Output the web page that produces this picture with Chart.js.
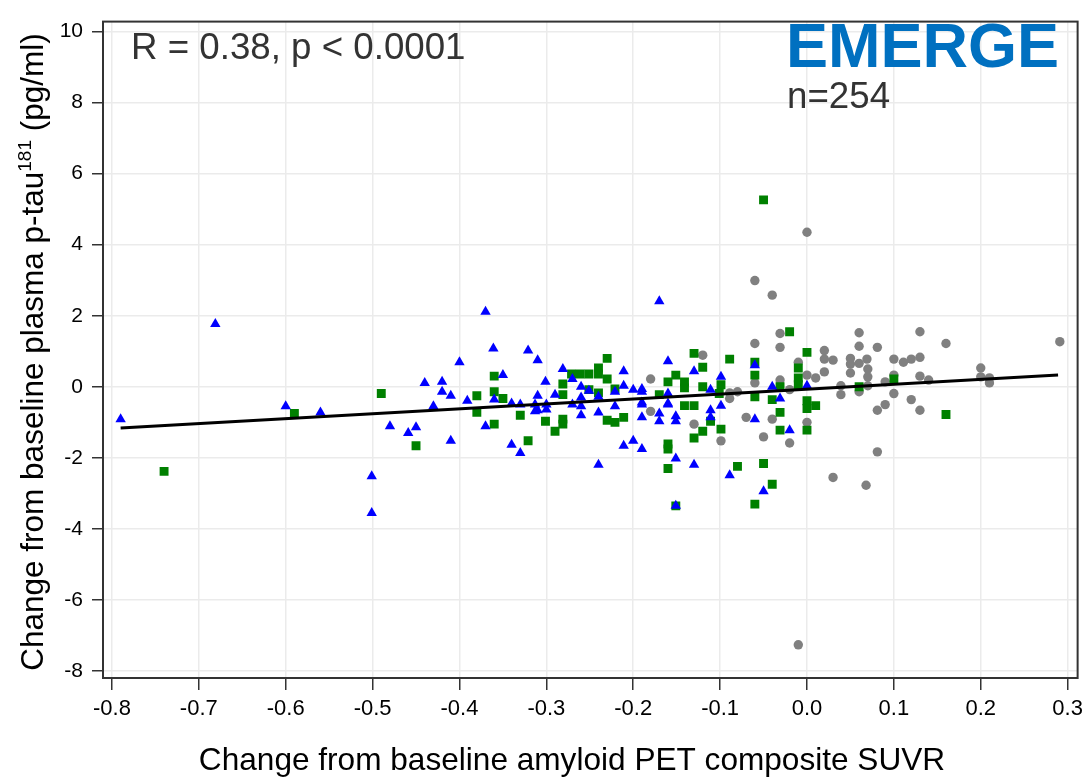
<!DOCTYPE html>
<html>
<head>
<meta charset="utf-8">
<script src="https://cdn.jsdelivr.net/npm/chart.js@4.4.1/dist/chart.umd.min.js"></script>
<style>
html, body { margin: 0; padding: 0; background: #fff; }
#wrap { width: 1089px; height: 777px; }
</style>
</head>
<body>
<div id="wrap"><canvas id="scatterChart" width="1089" height="777"></canvas></div>
<script>
// tick labels
const xTicks = [-0.8, -0.7, -0.6, -0.5, -0.4, -0.3, -0.2, -0.1, 0, 0.1, 0.2, 0.3];
const yTicks = [-8, -6, -4, -2, 0, 2, 4, 6, 8, 10];

// blue triangles
const blueX = [-0.790, -0.681, -0.600, -0.560, -0.370, -0.361, -0.321, -0.310, -0.400, -0.350,
    -0.440, -0.420, -0.301, -0.420, -0.410, -0.391, -0.360, -0.310, -0.430, -0.340,
    -0.330, -0.310, -0.480, -0.459, -0.450, -0.410, -0.370, -0.340, -0.330, -0.501,
    -0.501, -0.170, -0.160, -0.281, -0.211, -0.130, -0.270, -0.260, -0.251, -0.221,
    -0.200, -0.190, -0.290, -0.260, -0.240, -0.190, -0.160, -0.270, -0.221, -0.300,
    -0.260, -0.240, -0.190, -0.170, -0.170, -0.151, -0.151, -0.211, -0.200, -0.190,
    -0.240, -0.151, -0.130, -0.151, -0.060, -0.099, -0.111, -0.040, -0.031, 0.000,
    -0.111, -0.111, -0.099, -0.060, -0.020, -0.089, -0.050, -0.211, -0.313, -0.300,
    -0.313, -0.260, -0.190, -0.160, -0.190, -0.160];
const blueY = [-0.91, 1.77, -0.55, -0.72, 2.11, 1.08, 1.02, 0.75, 0.69, 0.33,
    0.11, 0.14, 0.14, -0.14, -0.25, -0.39, -0.36, -0.25, -0.55, -0.47,
    -0.50, -0.66, -1.11, -1.30, -1.14, -1.52, -1.11, -1.63, -1.86, -2.52,
    -3.55, 2.41, 0.72, 0.50, 0.44, 0.44, 0.22, 0.00, -0.11, -0.14,
    -0.08, -0.06, -0.22, -0.30, -0.28, -0.44, -0.47, -0.50, -0.55, -0.64,
    -0.80, -0.72, -0.86, -0.75, -0.97, -0.83, -0.97, -1.66, -1.52, -1.75,
    -2.19, -2.02, -2.19, -3.35, 0.61, 0.28, -0.08, 0.00, -0.33, 0.03,
    -0.66, -0.86, -0.53, -0.91, -1.22, -2.49, -2.94, 0.03, -0.50, -0.50,
    -0.69, -0.55, -0.14, -0.19, -0.50, -0.50];

// green squares
const greenX = [-0.590, -0.740, -0.360, -0.490, -0.380, -0.360, -0.350, -0.380, -0.330, -0.301,
    -0.360, -0.450, -0.321, -0.130, -0.120, -0.230, -0.271, -0.261, -0.251, -0.240,
    -0.240, -0.230, -0.160, -0.151, -0.141, -0.120, -0.281, -0.240, -0.221, -0.170,
    -0.281, -0.141, -0.130, -0.281, -0.281, -0.290, -0.230, -0.221, -0.211, -0.120,
    -0.130, -0.160, -0.160, -0.160, -0.050, -0.020, 0.000, -0.089, -0.060, -0.060,
    -0.010, -0.010, -0.010, -0.099, -0.060, -0.031, -0.040, 0.000, 0.000, 0.010,
    0.060, -0.111, -0.099, -0.031, -0.031, 0.000, -0.080, -0.050, -0.040, -0.060,
    0.100, 0.160, -0.151, -0.141, -0.101, -0.251];
const greenY = [-0.75, -2.38, 0.30, -0.19, -0.25, -0.14, -0.33, -0.72, -0.80, -0.97,
    -1.05, -1.66, -1.52, 0.94, 0.55, 0.80, 0.36, 0.36, 0.36, 0.36,
    0.53, 0.22, 0.14, 0.33, 0.14, 0.00, 0.08, -0.17, -0.06, -0.22,
    -0.22, -0.53, -0.53, -0.91, -1.05, -1.25, -0.94, -1.00, -0.86, -1.25,
    -1.44, -1.61, -1.75, -2.30, 5.26, 1.55, 0.97, 0.78, 0.69, 0.33,
    0.53, 0.25, 0.06, 0.06, -0.28, 0.00, -0.36, -0.39, -0.61, -0.53,
    0.00, -0.97, -1.19, -0.72, -1.22, -1.22, -2.24, -2.16, -2.74, -3.30,
    0.22, -0.78, -3.35, -0.03, -0.19, -0.08];

// gray circles
const grayX = [-0.120, -0.180, -0.180, -0.130, 0.000, -0.060, -0.040, -0.031, 0.060, -0.060,
    -0.031, 0.060, 0.020, 0.020, 0.030, 0.050, 0.050, 0.060, 0.069, -0.060,
    -0.010, 0.000, 0.010, 0.020, 0.050, -0.089, -0.080, -0.089, -0.020, -0.031,
    0.039, 0.039, 0.060, -0.099, -0.070, -0.040, 0.000, -0.050, -0.020, 0.030,
    0.068, 0.081, 0.130, 0.160, 0.291, 0.100, 0.111, 0.120, 0.130, 0.070,
    0.070, 0.090, 0.100, 0.130, 0.140, 0.200, 0.200, 0.210, 0.210, 0.070,
    0.100, 0.090, 0.081, 0.120, 0.130, 0.081, -0.010];
const grayY = [0.89, 0.22, -0.69, -1.05, 4.35, 2.99, 2.58, 1.50, 1.52, 1.22,
    1.11, 1.14, 1.02, 0.78, 0.75, 0.80, 0.64, 0.66, 0.78, 0.11,
    0.69, 0.33, 0.25, 0.42, 0.39, -0.17, -0.14, -0.33, -0.08, 0.19,
    0.03, -0.22, -0.14, -1.52, -0.86, -0.91, -1.00, -1.41, -1.58, -2.55,
    -2.77, 1.11, 1.55, 1.22, 1.27, 0.78, 0.69, 0.78, 0.83, 0.50,
    0.28, 0.14, 0.33, 0.30, 0.19, 0.53, 0.28, 0.25, 0.11, 0.03,
    -0.19, -0.50, -0.66, -0.36, -0.66, -1.83, -7.26];

// fitted line end points
const fitX = [-0.79, 0.289];
const fitY = [-1.16, 0.33];

const statText = 'R = 0.38, p < 0.0001';
const studyName = 'EMERGE';
const nText = 'n=254';
const xTitle = 'Change from baseline amyloid PET composite SUVR';

const FONT = '"Liberation Sans", Arial, sans-serif';

function toPoints(xs, ys) {
    return xs.map((x, i) => ({ x: x, y: ys[i] }));
}

const overlayPlugin = {
    id: 'overlay',
    afterDraw(chart) {
        const ctx = chart.ctx;
        const a = chart.chartArea;
        ctx.save();
        // frame
        ctx.strokeStyle = '#333';
        ctx.lineWidth = 2;
        ctx.strokeRect(a.left, a.top, a.right - a.left, a.bottom - a.top);

        ctx.textBaseline = 'alphabetic';
        ctx.textAlign = 'left';
        ctx.fillStyle = '#333';
        ctx.font = '36.7px ' + FONT;
        ctx.fillText(statText, 131, 59);
        ctx.fillText(nText, 787, 108);
        ctx.fillStyle = '#0070c0';
        ctx.font = 'bold 63px ' + FONT;
        ctx.fillText(studyName, 786, 67);

        // x title
        ctx.fillStyle = '#000';
        ctx.font = '31.6px ' + FONT;
        ctx.textAlign = 'center';
        ctx.fillText(xTitle, 572, 770);

        // y title with superscript
        const part1 = 'Change from baseline plasma p-tau';
        const sup = '181';
        const part2 = ' (pg/ml)';
        ctx.textAlign = 'left';
        ctx.font = '31.5px ' + FONT;
        const w1 = ctx.measureText(part1).width;
        const w3 = ctx.measureText(part2).width;
        ctx.font = '19px ' + FONT;
        const w2 = ctx.measureText(sup).width;
        const total = w1 + w2 + w3;
        ctx.translate(43, 352);
        ctx.rotate(-Math.PI / 2);
        const x0 = -total / 2;
        ctx.font = '31.5px ' + FONT;
        ctx.fillText(part1, x0, 0);
        ctx.font = '19px ' + FONT;
        ctx.fillText(sup, x0 + w1, -12);
        ctx.font = '31.5px ' + FONT;
        ctx.fillText(part2, x0 + w1 + w2, 0);
        ctx.restore();
    }
};

const ctx = document.getElementById('scatterChart').getContext('2d');

new Chart(ctx, {
    type: 'scatter',
    data: {
        datasets: [
            {
                type: 'line',
                data: toPoints(fitX, fitY),
                borderColor: '#000',
                borderWidth: 3,
                pointRadius: 0,
                fill: false
            },
            {
                data: toPoints(blueX, blueY),
                pointStyle: 'triangle',
                pointRadius: 6,
                backgroundColor: '#0000ff',
                borderWidth: 0
            },
            {
                data: toPoints(greenX, greenY),
                pointStyle: 'rect',
                pointRadius: 6.3,
                backgroundColor: '#008000',
                borderWidth: 0
            },
            {
                data: toPoints(grayX, grayY),
                pointStyle: 'circle',
                pointRadius: 4.7,
                backgroundColor: '#808080',
                borderWidth: 0
            }
        ]
    },
    options: {
        responsive: false,
        animation: false,
        events: [],
        layout: { padding: { top: 11, right: 8, left: 0, bottom: 0 } },
        plugins: {
            legend: { display: false },
            tooltip: { enabled: false }
        },
        scales: {
            x: {
                type: 'linear',
                min: -0.8103,
                max: 0.3115,
                afterBuildTicks: s => { s.ticks = xTicks.map(v => ({ value: v })); },
                afterFit: s => { s.height = 99; },
                border: { display: false },
                grid: { color: '#ebebeb', lineWidth: 1.5, tickLength: 12, tickColor: '#333', tickWidth: 1.5 },
                ticks: {
                    callback: v => v.toFixed(1),
                    font: { size: 22, family: FONT },
                    color: '#000',
                    padding: 6,
                    maxRotation: 0,
                    autoSkip: false
                }
            },
            y: {
                min: -8.194,
                max: 10.277,
                afterBuildTicks: s => { s.ticks = yTicks.map(v => ({ value: v })); },
                afterFit: s => { s.width = 103; },
                border: { display: false },
                grid: { color: '#ebebeb', lineWidth: 1.5, tickLength: 11, tickColor: '#333', tickWidth: 1.5 },
                ticks: {
                    callback: v => String(v),
                    font: { size: 21, family: FONT },
                    color: '#000',
                    padding: 9
                }
            }
        }
    },
    plugins: [overlayPlugin]
});
</script>
</body>
</html>
